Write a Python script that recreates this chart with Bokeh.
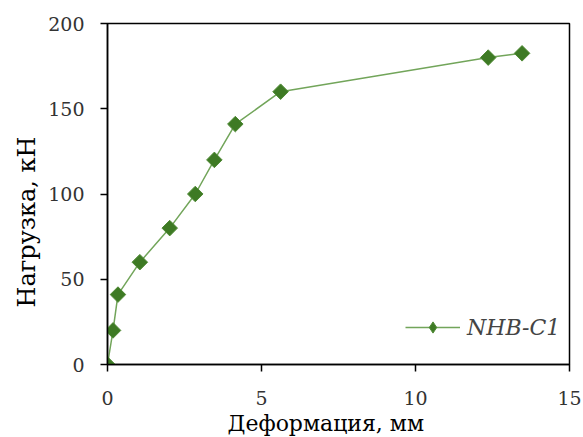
import math
from bokeh.plotting import figure
from bokeh.models import Range1d, FixedTicker, Legend, LegendItem, Title
from bokeh.embed import file_html
from bokeh.resources import INLINE

deformation = [0.0, 0.18, 0.34, 1.05, 2.02, 2.85, 3.47, 4.15, 5.62, 12.36, 13.46]
load = [0, 20, 41, 60, 80, 100, 120, 141, 160, 180, 182.5]
x_ticks = [0, 5, 10, 15]
y_ticks = [0, 50, 100, 150, 200]
series_name = "NHB-C1"
x_title = "Деформация, мм"
y_title = "Нагрузка, кН"

FONT = "DejaVu Serif"
LINE_COLOR = "#72a55a"
MARK_FILL = "#3e7a24"
MARK_EDGE = "#4f8a35"

p = figure(width=583, height=437, output_backend="svg", toolbar_location=None,
           x_range=Range1d(0, 15), y_range=Range1d(0, 200),
           min_border_left=107, min_border_right=14, min_border_top=23, min_border_bottom=73)
p.frame_width = 462
p.frame_height = 341
p.grid.visible = False
p.outline_line_color = "black"
p.outline_line_width = 1.5
p.background_fill_color = "white"
p.border_fill_color = "white"

for ax, ticks in ((p.xaxis[0], x_ticks), (p.yaxis[0], y_ticks)):
    ax.ticker = FixedTicker(ticks=ticks)
    ax.minor_tick_line_color = None
    ax.major_tick_out = 7
    ax.major_tick_in = 0
    ax.axis_line_color = "black"
    ax.axis_line_width = 1.5
    ax.major_tick_line_color = "black"
    ax.major_tick_line_width = 1.5
    ax.major_label_text_font = FONT
    ax.major_label_text_font_size = "19px"
    ax.major_label_text_color = "#333333"
p.xaxis[0].major_label_standoff = 19
p.yaxis[0].major_label_standoff = 16

line = p.line(deformation, load, line_color=LINE_COLOR, line_width=1.5)
pts = p.scatter(deformation, load, marker="square", angle=math.pi / 4, size=11,
                fill_color=MARK_FILL, line_color=MARK_EDGE, line_width=1)
# legend-only marker (NaN data, nothing drawn in the plot) so the legend shows a diamond
legend_mark = p.scatter([float("nan")], [float("nan")], marker="diamond", size=18,
                        fill_color=MARK_FILL, line_color=MARK_EDGE, line_width=1)

legend = Legend(items=[LegendItem(label=series_name, renderers=[line, legend_mark])],
                location=(298, 23), background_fill_alpha=0, border_line_alpha=0,
                label_text_font=FONT, label_text_font_style="italic",
                label_text_font_size="22px", glyph_width=55, glyph_height=28,
                label_standoff=7, padding=0, margin=0)
p.add_layout(legend, "center")

xt = Title(text=x_title, align="left", offset=120, text_font=FONT,
           text_font_size="22px", text_font_style="normal", text_color="black", standoff=2)
p.add_layout(xt, "below")
yt = Title(text=y_title, align="left", offset=57, text_font=FONT,
           text_font_size="24px", text_font_style="normal", text_color="black", standoff=10)
p.add_layout(yt, "left")

open("out.html", "w").write(file_html(p, INLINE))
